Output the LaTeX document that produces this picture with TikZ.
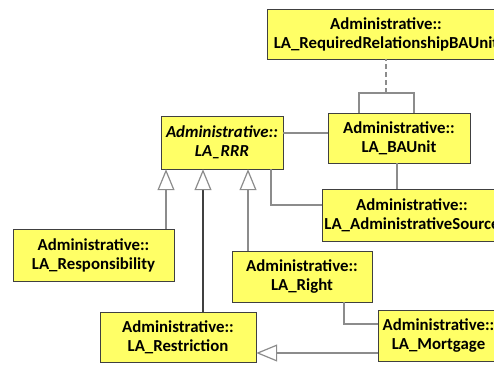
\documentclass[tikz,border=0pt]{standalone}
\usepackage{fontspec}
\setsansfont{Carlito}
\usetikzlibrary{arrows.meta}
\definecolor{clsyellow}{HTML}{FFFF66}
\definecolor{lnggray}{HTML}{8C8C8C}
\definecolor{lndark}{HTML}{404040}

\begin{document}
\begin{tikzpicture}[
  x=1pt, y=-1pt,
  font=\sffamily\bfseries\fontsize{16.8}{19}\selectfont,
  cls/.style={draw=lndark, fill=clsyellow, align=center, inner sep=2pt,
              minimum width=#1},
  lnk/.style={draw=lnggray, line width=1.2pt},
  gen/.style={lnk, -{Triangle[open, length=21pt, width=17pt, fill=white, color=lnggray]}},
]
\useasboundingbox (0,0) rectangle (494,365);
\clip (0,0) rectangle (494,365);

%% ===== CLASSES =====

\node[cls=238pt, minimum height=50pt] (reqrel) at (386,34)
    {Administrative::\\LA\_RequiredRelationshipBAUnit};

\node[cls=142pt, minimum height=50pt] (baunit) at (399,138)
    {Administrative::\\LA\_BAUnit};

\node[cls=122pt, minimum height=53pt, font=\sffamily\bfseries\itshape\fontsize{16.8}{19}\selectfont] (rrr) at (222,142.5)
    {Administrative::\\LA\_RRR};

\node[cls=178pt, minimum height=52pt] (src) at (412,215)
    {Administrative::\\LA\_AdministrativeSource};

\node[cls=161pt, minimum height=52pt] (resp) at (93.5,255)
    {Administrative::\\LA\_Responsibility};

\node[cls=140pt, minimum height=51pt] (right) at (302,276.5)
    {Administrative::\\LA\_Right};

\node[cls=156pt, minimum height=50pt] (restr) at (178,337)
    {Administrative::\\LA\_Restriction};

\node[cls=121pt, minimum height=51pt] (mort) at (438.5,335.5)
    {Administrative::\\LA\_Mortgage};

%% ===== ASSOCIATIONS =====

\coordinate (loop) at (386,93);
\draw[lnk] (baunit.north -| 359,0) |- (loop) -| (baunit.north -| 414,0);
\draw[lnk, dash pattern=on 5pt off 3pt] (loop) -- (reqrel.south);

\draw[lnk] (rrr.east |- 0,133) -- (baunit.west |- 0,133);
\draw[lnk] (rrr.south -| 271,0) |- (src.west |- 0,205);
\draw[lnk] (baunit.south -| 397,0) -- (src.north -| 397,0);
\draw[lnk] (right.south -| 344,0) |- (mort.west |- 0,324);

%% ===== GENERALIZATIONS =====

\draw[gen] (resp.north -| 166,0) -- (rrr.south -| 166,0);
\draw[gen, draw=lndark] (restr.north -| 203,0) -- (rrr.south -| 203,0);
\draw[gen] (right.north -| 248,0) -- (rrr.south -| 248,0);
\draw[gen] (mort.west |- 0,353) -- (restr.east |- 0,353);

\end{tikzpicture}
\end{document}
